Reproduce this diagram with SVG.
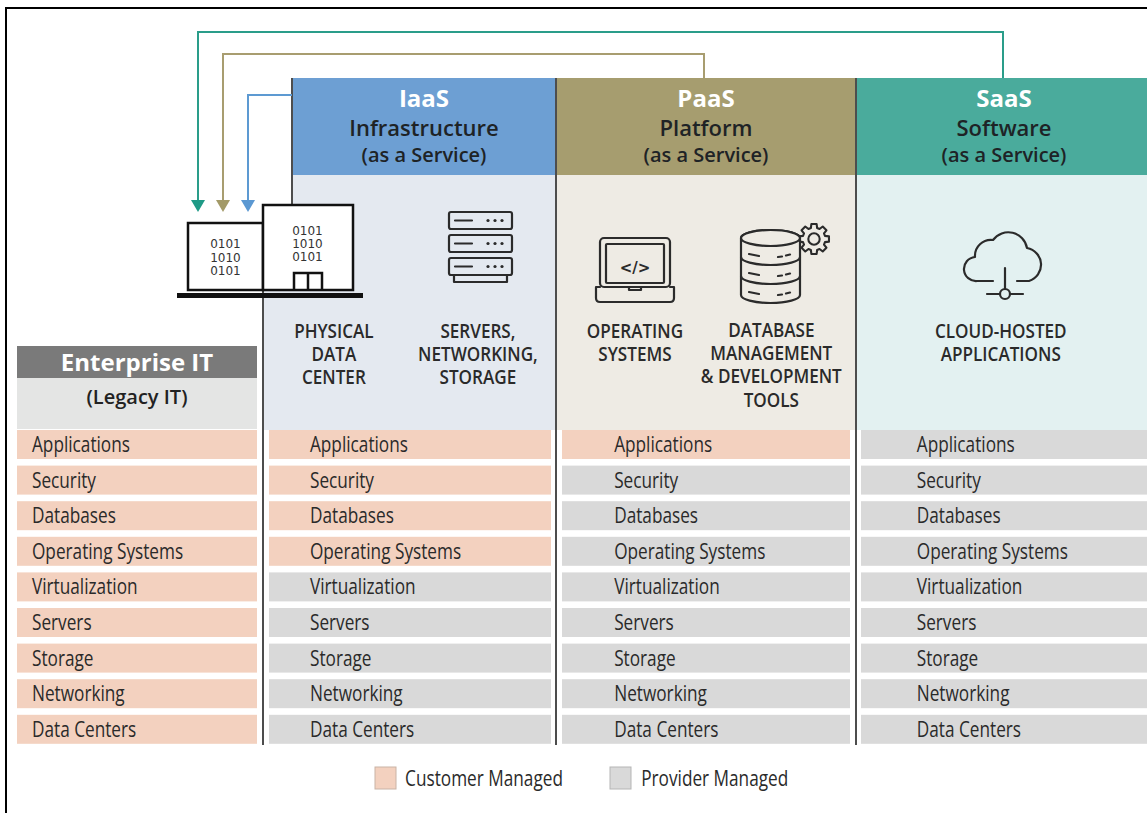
<svg xmlns="http://www.w3.org/2000/svg" width="1147" height="813" viewBox="0 0 1147 813">
<style>
.row{font-family:"Open Sans","Liberation Sans",sans-serif;font-size:21px;fill:#2a2a2a}
.cap{font-family:"Open Sans","Liberation Sans",sans-serif;font-size:19px;font-weight:600;fill:#2a2a2a;text-anchor:middle}
.h1{font-family:"Open Sans","Liberation Sans",sans-serif;font-size:24px;font-weight:700;fill:#ffffff;text-anchor:middle}
.h2{font-family:"Open Sans","Liberation Sans",sans-serif;font-size:22px;font-weight:600;fill:#1e2326;text-anchor:middle}
.h3{font-family:"Open Sans","Liberation Sans",sans-serif;font-size:20px;font-weight:600;fill:#1e2326;text-anchor:middle}
.bin{font-family:"DejaVu Sans",sans-serif;font-size:12px;fill:#333;text-anchor:middle}
.cu{fill:#f3d1bf}
.pr{fill:#d9d9d9}
.div{stroke:#4d4d4d;stroke-width:2;fill:none}
.ic{stroke:#2b2b2b;stroke-width:2.2;fill:none;stroke-linecap:round;stroke-linejoin:round}
</style>
<rect x="0" y="0" width="1147" height="813" fill="#ffffff"/>
<rect x="6" y="8" width="1160" height="830" fill="none" stroke="#000" stroke-width="2"/>

<!-- column backgrounds -->
<g id="iaas">
  <rect x="292" y="78" width="264" height="97" fill="#6d9fd3"/>
  <rect x="292" y="175" width="264" height="255" fill="#e4e9f0"/>
  <rect x="263" y="290" width="30" height="140" fill="#e4e9f0"/>
  <text class="h1" x="424" y="107">IaaS</text>
  <text class="h2" x="424" y="136">Infrastructure</text>
  <text class="h3" x="424" y="162">(as a Service)</text>
  <g class="ic">
    <rect x="449" y="212" width="63" height="17" rx="2"/>
    <rect x="449" y="235" width="63" height="17" rx="2"/>
    <rect x="449" y="258" width="63" height="17" rx="2"/>
    <path d="M454,275 V282 H507 V275"/>
    <path d="M455,220.5 H472 M455,243.5 H472 M455,266.5 H472"/>
  </g>
  <g fill="#2b2b2b">
    <circle cx="488" cy="220.5" r="1.6"/><circle cx="495" cy="220.5" r="1.6"/><circle cx="502" cy="220.5" r="1.6"/>
    <circle cx="488" cy="243.5" r="1.6"/><circle cx="495" cy="243.5" r="1.6"/><circle cx="502" cy="243.5" r="1.6"/>
    <circle cx="488" cy="266.5" r="1.6"/><circle cx="495" cy="266.5" r="1.6"/><circle cx="502" cy="266.5" r="1.6"/>
  </g>
  <g transform="scale(0.9,1)">
    <text class="cap" x="371" y="338">PHYSICAL</text>
    <text class="cap" x="371" y="361">DATA</text>
    <text class="cap" x="371" y="384">CENTER</text>
    <text class="cap" x="531" y="338">SERVERS,</text>
    <text class="cap" x="531" y="361">NETWORKING,</text>
    <text class="cap" x="531" y="384">STORAGE</text>
  </g>
</g>

<g id="paas">
  <rect x="557" y="78" width="299" height="97" fill="#a69d6f"/>
  <rect x="557" y="175" width="299" height="255" fill="#eeebe4"/>
  <text class="h1" x="706" y="107">PaaS</text>
  <text class="h2" x="706" y="136">Platform</text>
  <text class="h3" x="706" y="162">(as a Service)</text>
  <g class="ic">
    <rect x="600" y="238" width="70" height="49" rx="4"/>
    <rect x="606" y="244" width="58" height="39" rx="1"/>
    <path d="M600,287 H596 V298 Q596,302 600,302 H670 Q674,302 674,298 V287 H670"/>
    <path d="M629,287 V290 H641 V287"/>
  </g>
  <text x="635" y="273" font-family="DejaVu Sans, sans-serif" font-size="15" font-weight="bold" fill="#2b2b2b" text-anchor="middle">&lt;/&gt;</text>
  <g class="ic" transform="translate(814,239) scale(0.95)">
    <path fill="#eeebe4" d="M11.54,-3.31 L15.76,-2.78 L15.76,2.78 L11.54,3.31 L10.50,5.82 L13.11,9.18 L9.18,13.11 L5.82,10.50 L3.31,11.54 L2.78,15.76 L-2.78,15.76 L-3.31,11.54 L-5.82,10.50 L-9.18,13.11 L-13.11,9.18 L-10.50,5.82 L-11.54,3.31 L-15.76,2.78 L-15.76,-2.78 L-11.54,-3.31 L-10.50,-5.82 L-13.11,-9.18 L-9.18,-13.11 L-5.82,-10.50 L-3.31,-11.54 L-2.78,-15.76 L2.78,-15.76 L3.31,-11.54 L5.82,-10.50 L9.18,-13.11 L13.11,-9.18 L10.50,-5.82 Z"/>
    <circle cx="0" cy="0" r="6"/>
  </g>
  <g class="ic">
    <path fill="#eeebe4" d="M741,238 V295 A29.5,8 0 0 0 800,295 V238 A29.5,8 0 0 0 741,238 Z"/>
    <ellipse cx="770.5" cy="238" rx="29.5" ry="8" fill="#eeebe4"/>
    <path d="M741,257 A29.5,8 0 0 0 800,257 M741,276 A29.5,8 0 0 0 800,276"/>
    <path d="M749,254 L759,256 M778,257 L782,256.5 M786,255.5 L790,254.5"/>
    <path d="M749,273 L759,275 M778,276 L782,275.5 M786,274.5 L790,273.5"/>
    <path d="M749,292 L759,294 M778,295 L782,294.5 M786,293.5 L790,292.5"/>
  </g>
  <g transform="scale(0.9,1)">
    <text class="cap" x="705.5" y="338">OPERATING</text>
    <text class="cap" x="705.5" y="361">SYSTEMS</text>
    <text class="cap" x="857" y="337">DATABASE</text>
    <text class="cap" x="857" y="360">MANAGEMENT</text>
    <text class="cap" x="857" y="383">&amp; DEVELOPMENT</text>
    <text class="cap" x="857" y="407">TOOLS</text>
  </g>
</g>

<g id="saas">
  <rect x="857" y="78" width="290" height="97" fill="#4aab9c"/>
  <rect x="857" y="175" width="290" height="255" fill="#e3f1f1"/>
  <text class="h1" x="1004" y="107">SaaS</text>
  <text class="h2" x="1004" y="136">Software</text>
  <text class="h3" x="1004" y="162">(as a Service)</text>
  <g class="ic">
    <path d="M993,281 H977 A12,12 0 0 1 975,257 A16,16 0 0 1 993,240 A19,19 0 0 1 1027,248 A17,17 0 0 1 1029,281 H1017"/>
    <path d="M1005,268 V289"/>
    <circle cx="1005" cy="294" r="5"/>
    <path d="M987,294 H1000 M1010,294 H1023"/>
  </g>
  <g transform="scale(0.9,1)">
    <text class="cap" x="1112" y="338">CLOUD-HOSTED</text>
    <text class="cap" x="1112" y="361">APPLICATIONS</text>
  </g>
</g>

<g id="enterprise">
  <rect x="17" y="346" width="240" height="32" fill="#7a7a7a"/>
  <rect x="17" y="378" width="240" height="51" fill="#e4e5e4"/>
  <text x="137" y="371" font-family="Open Sans, Liberation Sans, sans-serif" font-size="24" font-weight="700" fill="#fff" text-anchor="middle">Enterprise IT</text>
  <text x="137" y="404" font-family="Open Sans, Liberation Sans, sans-serif" font-size="20" font-weight="600" fill="#222" text-anchor="middle">(Legacy IT)</text>
</g>

<!-- rows -->
<g id="rows">
  <g id="col-ent">
    <rect class="cu" x="17" y="430" width="240" height="29"/>
    <rect class="cu" x="17" y="465.6" width="240" height="29"/>
    <rect class="cu" x="17" y="501.2" width="240" height="29"/>
    <rect class="cu" x="17" y="536.8" width="240" height="29"/>
    <rect class="cu" x="17" y="572.4" width="240" height="29"/>
    <rect class="cu" x="17" y="608" width="240" height="29"/>
    <rect class="cu" x="17" y="643.6" width="240" height="29"/>
    <rect class="cu" x="17" y="679.2" width="240" height="29"/>
    <rect class="cu" x="17" y="714.8" width="240" height="29"/>
  </g>
  <g id="col-iaas">
    <rect class="cu" x="269" y="430" width="282" height="29"/>
    <rect class="cu" x="269" y="465.6" width="282" height="29"/>
    <rect class="cu" x="269" y="501.2" width="282" height="29"/>
    <rect class="cu" x="269" y="536.8" width="282" height="29"/>
    <rect class="pr" x="269" y="572.4" width="282" height="29"/>
    <rect class="pr" x="269" y="608" width="282" height="29"/>
    <rect class="pr" x="269" y="643.6" width="282" height="29"/>
    <rect class="pr" x="269" y="679.2" width="282" height="29"/>
    <rect class="pr" x="269" y="714.8" width="282" height="29"/>
  </g>
  <g id="col-paas">
    <rect class="cu" x="562" y="430" width="288" height="29"/>
    <rect class="pr" x="562" y="465.6" width="288" height="29"/>
    <rect class="pr" x="562" y="501.2" width="288" height="29"/>
    <rect class="pr" x="562" y="536.8" width="288" height="29"/>
    <rect class="pr" x="562" y="572.4" width="288" height="29"/>
    <rect class="pr" x="562" y="608" width="288" height="29"/>
    <rect class="pr" x="562" y="643.6" width="288" height="29"/>
    <rect class="pr" x="562" y="679.2" width="288" height="29"/>
    <rect class="pr" x="562" y="714.8" width="288" height="29"/>
  </g>
  <g id="col-saas">
    <rect class="pr" x="861" y="430" width="286" height="29"/>
    <rect class="pr" x="861" y="465.6" width="286" height="29"/>
    <rect class="pr" x="861" y="501.2" width="286" height="29"/>
    <rect class="pr" x="861" y="536.8" width="286" height="29"/>
    <rect class="pr" x="861" y="572.4" width="286" height="29"/>
    <rect class="pr" x="861" y="608" width="286" height="29"/>
    <rect class="pr" x="861" y="643.6" width="286" height="29"/>
    <rect class="pr" x="861" y="679.2" width="286" height="29"/>
    <rect class="pr" x="861" y="714.8" width="286" height="29"/>
  </g>
  <g transform="scale(0.82,1)">
    <g id="t-ent">
      <text class="row" x="39" y="452">Applications</text>
      <text class="row" x="39" y="487.6">Security</text>
      <text class="row" x="39" y="523.2">Databases</text>
      <text class="row" x="39" y="558.8">Operating Systems</text>
      <text class="row" x="39" y="594.4">Virtualization</text>
      <text class="row" x="39" y="630">Servers</text>
      <text class="row" x="39" y="665.6">Storage</text>
      <text class="row" x="39" y="701.2">Networking</text>
      <text class="row" x="39" y="736.8">Data Centers</text>
    </g>
    <g id="t-iaas">
      <text class="row" x="378" y="452">Applications</text>
      <text class="row" x="378" y="487.6">Security</text>
      <text class="row" x="378" y="523.2">Databases</text>
      <text class="row" x="378" y="558.8">Operating Systems</text>
      <text class="row" x="378" y="594.4">Virtualization</text>
      <text class="row" x="378" y="630">Servers</text>
      <text class="row" x="378" y="665.6">Storage</text>
      <text class="row" x="378" y="701.2">Networking</text>
      <text class="row" x="378" y="736.8">Data Centers</text>
    </g>
    <g id="t-paas">
      <text class="row" x="749" y="452">Applications</text>
      <text class="row" x="749" y="487.6">Security</text>
      <text class="row" x="749" y="523.2">Databases</text>
      <text class="row" x="749" y="558.8">Operating Systems</text>
      <text class="row" x="749" y="594.4">Virtualization</text>
      <text class="row" x="749" y="630">Servers</text>
      <text class="row" x="749" y="665.6">Storage</text>
      <text class="row" x="749" y="701.2">Networking</text>
      <text class="row" x="749" y="736.8">Data Centers</text>
    </g>
    <g id="t-saas">
      <text class="row" x="1118" y="452">Applications</text>
      <text class="row" x="1118" y="487.6">Security</text>
      <text class="row" x="1118" y="523.2">Databases</text>
      <text class="row" x="1118" y="558.8">Operating Systems</text>
      <text class="row" x="1118" y="594.4">Virtualization</text>
      <text class="row" x="1118" y="630">Servers</text>
      <text class="row" x="1118" y="665.6">Storage</text>
      <text class="row" x="1118" y="701.2">Networking</text>
      <text class="row" x="1118" y="736.8">Data Centers</text>
    </g>
  </g>
</g>

<!-- dividers -->
<g id="dividers">
  <path class="div" d="M263,290 V745"/>
  <path class="div" d="M292,78 V206"/>
  <path class="div" d="M556,78 V745"/>
  <path class="div" d="M856,78 V745"/>
</g>

<!-- building -->
<g id="building">
  <rect x="188" y="223" width="75" height="67" fill="#fff" stroke="#111" stroke-width="2.5"/>
  <rect x="263" y="205" width="90" height="85" fill="#fff" stroke="#111" stroke-width="2.5"/>
  <path d="M294,290 V273 H322 V290 M308,273 V290" fill="none" stroke="#111" stroke-width="2.5"/>
  <rect x="177" y="293" width="186" height="5" fill="#111"/>
  <text class="bin" x="225.5" y="248">0101</text>
  <text class="bin" x="225.5" y="261.5">1010</text>
  <text class="bin" x="225.5" y="275">0101</text>
  <text class="bin" x="307.5" y="235">0101</text>
  <text class="bin" x="307.5" y="248">1010</text>
  <text class="bin" x="307.5" y="261">0101</text>
</g>

<!-- connectors -->
<g id="connectors" fill="none" stroke-width="2">
  <path d="M1003,78 V32 H198 V202" stroke="#2a9d8a"/>
  <path d="M704,78 V54 H223 V202" stroke="#a89d70"/>
  <path d="M292,95 H248 V202" stroke="#5d9ad2"/>
  <path d="M191,200 H205 L198,212 Z" fill="#1f9a86" stroke="none"/>
  <path d="M216,200 H230 L223,212 Z" fill="#a39a68" stroke="none"/>
  <path d="M241,200 H255 L248,212 Z" fill="#5b98d2" stroke="none"/>
</g>

<!-- legend -->
<g id="legend">
  <rect x="375" y="767" width="21" height="22" fill="#f3d1bf" stroke="#c9b3a6" stroke-width="1"/>
  <rect x="610" y="767" width="21" height="22" fill="#d9d9d9" stroke="#b5b5b5" stroke-width="1"/>
  <g transform="scale(0.82,1)">
    <text class="row" x="494" y="786">Customer Managed</text>
    <text class="row" x="782" y="786">Provider Managed</text>
  </g>
</g>
</svg>
